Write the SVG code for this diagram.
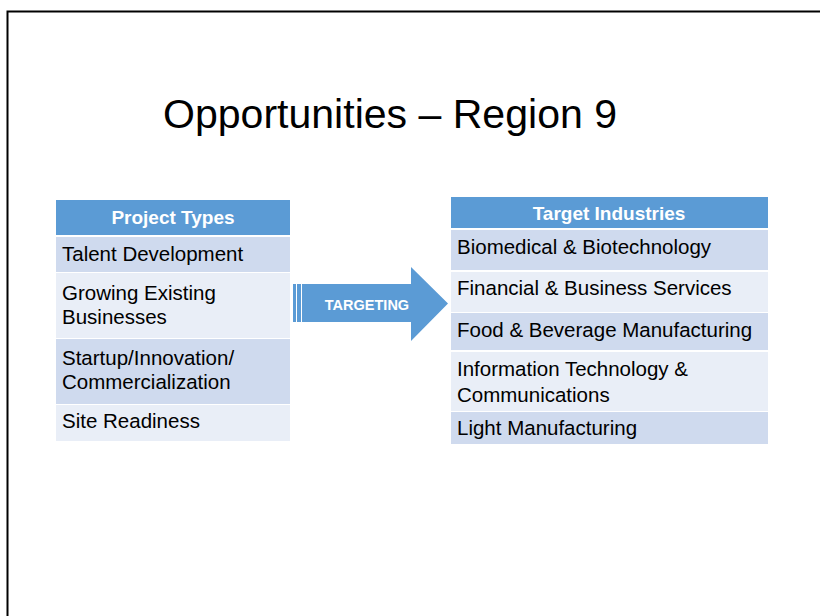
<svg xmlns="http://www.w3.org/2000/svg" width="820" height="616" viewBox="0 0 820 616">
<style>
.hdr{fill:#5B9BD5}
.dk{fill:#CFDAEE}
.lt{fill:#E9EEF7}
.t{font-family:"Liberation Sans",Arial,sans-serif;font-size:20.5px;fill:#000}
.h{font-family:"Liberation Sans",Arial,sans-serif;font-size:19px;font-weight:bold;fill:#fff;text-anchor:middle}
.title{font-family:"Liberation Sans",Arial,sans-serif;font-size:41px;fill:#000}
</style>
<rect x="0" y="0" width="820" height="616" fill="#fff"/>
<path d="M7.5 616 V11.5 H820" fill="none" stroke="#000" stroke-width="2"/>
<text class="title" x="163" y="128" textLength="454" lengthAdjust="spacingAndGlyphs">Opportunities – Region 9</text>
<g id="project-types">
<rect class="hdr" x="56" y="200" width="234" height="35"/>
<text class="h" x="173" y="224">Project Types</text>
<rect class="dk" x="56" y="237" width="234" height="35"/>
<text class="t" x="62" y="261">Talent Development</text>
<rect class="lt" x="56" y="273" width="234" height="65"/>
<text class="t" x="62" y="300">Growing Existing</text>
<text class="t" x="62" y="324">Businesses</text>
<rect class="dk" x="56" y="339" width="234" height="65"/>
<text class="t" x="62" y="365">Startup/Innovation/</text>
<text class="t" x="62" y="389">Commercialization</text>
<rect class="lt" x="56" y="405" width="234" height="36"/>
<text class="t" x="62" y="428">Site Readiness</text>
</g>
<g id="connectors">
<g id="targeting">
<rect x="293" y="284" width="3" height="38" fill="#5B9BD5"/>
<rect x="297" y="284" width="4" height="38" fill="#5B9BD5"/>
<path d="M302 284 H411 V267 L448 303.5 L411 341 V322 H302 Z" fill="#5B9BD5"/>
<text x="367" y="310" font-family="Liberation Sans,Arial,sans-serif" font-size="14.5" font-weight="bold" fill="#fff" text-anchor="middle">TARGETING</text>
</g>
</g>
<g id="target-industries">
<rect class="hdr" x="451" y="197" width="317" height="31"/>
<text class="h" x="609" y="220">Target Industries</text>
<rect class="dk" x="451" y="230" width="317" height="40"/>
<text class="t" x="457" y="254">Biomedical &amp; Biotechnology</text>
<rect class="lt" x="451" y="272" width="317" height="40"/>
<text class="t" x="457" y="295">Financial &amp; Business Services</text>
<rect class="dk" x="451" y="313" width="317" height="37"/>
<text class="t" x="457" y="337">Food &amp; Beverage Manufacturing</text>
<rect class="lt" x="451" y="352" width="317" height="59"/>
<text class="t" x="457" y="376">Information Technology &amp;</text>
<text class="t" x="457" y="402">Communications</text>
<rect class="dk" x="451" y="412" width="317" height="32"/>
<text class="t" x="457" y="435">Light Manufacturing</text>
</g>
</svg>
